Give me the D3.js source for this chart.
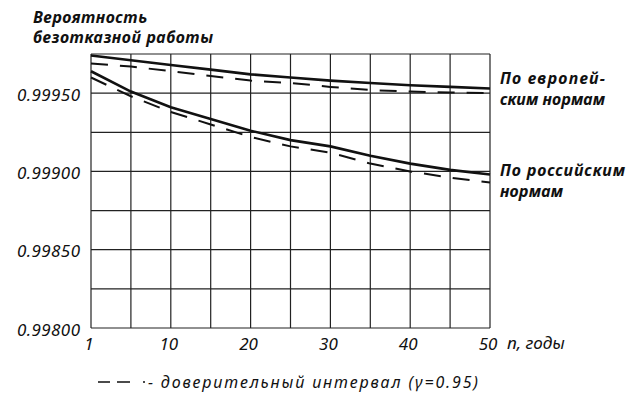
<!DOCTYPE html>
<html>
<head>
<meta charset="utf-8">
<script src="https://cdn.jsdelivr.net/npm/d3@7"></script>
<style>
  html, body { margin: 0; padding: 0; background: #fff; }
  svg { display: block; }
  text { font-family: 'Noto Sans', 'DejaVu Sans', sans-serif; font-style: italic; fill: #111; }
</style>
</head>
<body>
<div id="chart"></div>
<script>
// years (the first gridline is year 1, then every 5 years)
const years = [1, 5, 10, 15, 20, 25, 30, 35, 40, 45, 50];
const gridYears = [1, 5, 10, 15, 20, 25, 30, 35, 40, 45, 50];
const tickYears = [1, 10, 20, 30, 40, 50];
const yTicks = [0.998, 0.9985, 0.999, 0.9995];
const yGrid = [0.998, 0.99825, 0.9985, 0.99875, 0.999, 0.99925, 0.9995, 0.99975];

// probability of failure-free operation
const euroSolid  = [0.99974, 0.99971, 0.99968, 0.99965, 0.99962, 0.99960, 0.99958, 0.999565, 0.99955, 0.99954, 0.99953];
const euroDashed = [0.99969, 0.99967, 0.99964, 0.99961, 0.99958, 0.999565, 0.99954, 0.99952, 0.99951, 0.999504, 0.99950];
const rusSolid   = [0.99964, 0.99951, 0.99941, 0.999335, 0.99926, 0.99920, 0.99916, 0.99910, 0.99905, 0.99901, 0.99898];
const rusDashed  = [0.99960, 0.99948, 0.99938, 0.99930, 0.99922, 0.99916, 0.99912, 0.99905, 0.99900, 0.99896, 0.99893];

const W = 637, H = 393;
const m = { left: 91, top: 54, right: 147, bottom: 65 };
const w = W - m.left - m.right, h = H - m.top - m.bottom;

const svg = d3.select('#chart').append('svg').attr('width', W).attr('height', H);
const g = svg.append('g').attr('transform', `translate(${m.left},${m.top})`);

// first interval (1..5) takes one grid cell, like the other 5-year cells
const x = d3.scaleLinear().domain([1, 5, 50]).range([0, w / 10, w]);
const y = d3.scaleLinear().domain([0.998, 0.99975]).range([h, 0]);

// grid
g.append('g').selectAll('line').data(gridYears).join('line')
  .attr('x1', d => x(d)).attr('x2', d => x(d))
  .attr('y1', 0).attr('y2', h)
  .attr('stroke', '#222').attr('stroke-width', 1.2);
g.append('g').selectAll('line').data(yGrid).join('line')
  .attr('x1', 0).attr('x2', w)
  .attr('y1', d => y(d)).attr('y2', d => y(d))
  .attr('stroke', '#222').attr('stroke-width', 1.2);

// y labels
g.append('g').selectAll('text').data(yTicks).join('text')
  .attr('x', -11).attr('y', d => y(d) + 1)
  .attr('text-anchor', 'end').attr('dominant-baseline', 'central')
  .attr('textLength', 63)
  .style('font-size', '17px')
  .text(d => d3.format('.5f')(d));

// x labels
g.append('g').selectAll('text').data(tickYears).join('text')
  .attr('x', d => x(d) - 2).attr('y', h + 22)
  .attr('text-anchor', 'middle')
  .style('font-size', '17px')
  .text(d => d);

// curves
const line = vals => d3.line().x((d, i) => x(years[i])).y(d => y(d))(vals);
const series = [
  { v: euroSolid, dash: null },
  { v: euroDashed, dash: '17,12' },
  { v: rusSolid, dash: null },
  { v: rusDashed, dash: '17,12' },
];
g.append('g').selectAll('path').data(series).join('path')
  .attr('d', d => line(d.v))
  .attr('fill', 'none').attr('stroke', '#111')
  .attr('stroke-width', d => d.dash ? 2 : 2.6)
  .attr('stroke-dasharray', d => d.dash);

// titles and labels
const label = (txt, px, py, len, size, bold) => {
  const t = svg.append('text')
    .attr('x', px).attr('y', py)
    .style('font-size', size + 'px')
    .style('font-weight', bold ? 'bold' : 'normal')
    .text(txt);
  if (len) t.attr('textLength', len);
  return t;
};

label('Вероятность', 33, 23, 114, 16, true);
label('безотказной работы', 33, 43, 180, 16, true);
label('По европей-', 500, 84, 105, 16, true);
label('ским нормам', 500, 105, 105, 16, true);
label('По российским', 500, 176, 125, 16, true);
label('нормам', 500, 197, 63, 16, true);
label('n, годы', 507, 349, null, 17, false);

// legend: sample of the dashed line, then text
svg.append('line')
  .attr('x1', 98).attr('x2', 145).attr('y1', 382).attr('y2', 382)
  .attr('stroke', '#111').attr('stroke-width', 1.6)
  .attr('stroke-dasharray', '12,7,13,13,2,100');
label('- доверительный интервал (γ=0.95)', 148, 388, 330, 16, false);
</script>
</body>
</html>
